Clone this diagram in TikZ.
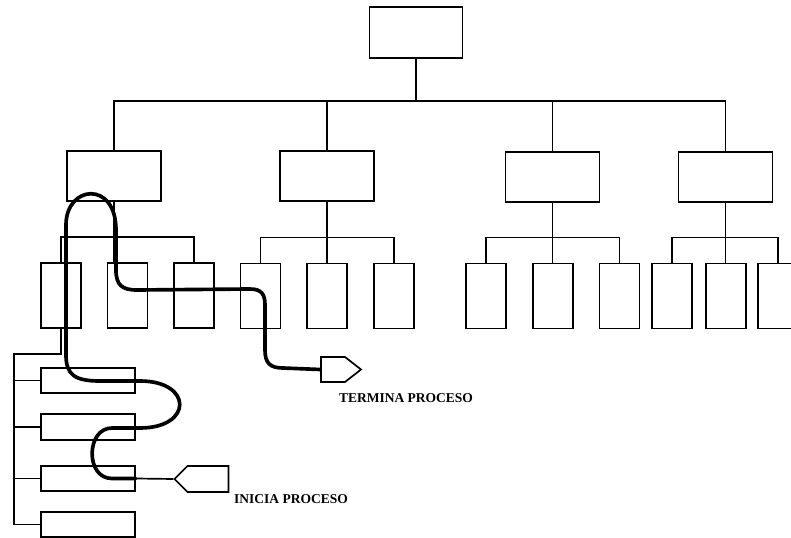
\documentclass[tikz,border=0pt]{standalone}
\usepackage{fontspec}
\setmainfont{Liberation Serif}
\usepackage{tikz}
\usetikzlibrary{positioning,calc,shapes.symbols}

\begin{document}
\begin{tikzpicture}[x=0.025cm,y=-0.025cm,line width=1.2pt,
		caja/.style={draw, inner sep=0pt, minimum width=2.35cm, minimum height=1.25cm},
		hoja/.style={draw, inner sep=0pt, minimum width=1cm, minimum height=1.625cm},
		sub/.style={draw, inner sep=0pt, minimum width=2.35cm, minimum height=0.64cm},
		marca/.style={draw, signal, inner sep=0pt},
		etiqueta/.style={font=\fontsize{9.6}{11}\selectfont\bfseries, inner sep=0pt},
		ruta/.style={line width=2.6pt, line cap=round, line join=round}]
		\useasboundingbox (0,0) rectangle (791,538);

		% raiz y primer nivel
		\node[caja, minimum width=2.325cm, minimum height=1.275cm] (raiz) at (416,32.5) {};
		\node[caja] (A) at (114,176) {};
		\node[caja] (B) at (327,176) {};
		\node[caja] (C) at (552.5,177) {};
		\node[caja] (D) at (725.5,177) {};
		\coordinate (bus) at (416,101);
		\draw (raiz.south) -- (bus);
		\draw (A.north) |- (bus);
		\draw (B.north) |- (bus);
		\draw (C.north) |- (bus);
		\draw (D.north) |- (bus);

		% hojas
		\node[hoja] (A1) at (61,295.5) {};
		\node[hoja] (A2) at (127.5,295.5) {};
		\node[hoja] (A3) at (194,295.5) {};
		\node[hoja] (B1) at (260.5,296) {};
		\node[hoja] (B2) at (327,296) {};
		\node[hoja] (B3) at (394,296) {};
		\node[hoja] (C1) at (486,296) {};
		\node[hoja] (C2) at (553,296) {};
		\node[hoja] (C3) at (619.5,296) {};
		\node[hoja] (D1) at (672,296) {};
		\node[hoja] (D2) at (726,296) {};
		\node[hoja] (D3) at (778,296) {};
		\foreach \p in {A,B,C,D}{
			\draw (\p.south) -- (\p.south |- \p2.north);
			\draw (\p1.north) -- ++(0,-25) -| (\p3.north);
		}

		% rama bajo A1
		\node[sub] (S1) at (88,380.5) {};
		\node[sub] (S2) at (88,427) {};
		\node[sub] (S3) at (88,478.5) {};
		\node[sub] (S4) at (88,524.5) {};
		\coordinate (tronco) at (14,354);
		\draw (A1.south) |- (tronco) |- (S4.west);
		\draw (S1.west) -- (S1.west -| tronco);
		\draw (S2.west) -- (S2.west -| tronco);
		\draw (S3.west) -- (S3.west -| tronco);

		% inicio y fin
		\node[marca, signal to=west, minimum width=1.35cm, minimum height=0.65cm] (ini) at (208,479) {};
		\node[marca, signal to=east, signal pointer angle=76, minimum width=1cm, minimum height=0.625cm] (fin) at (333,369.5) {};
		\node[etiqueta] (tIni) at (291,499) {INICIA PROCESO};
		\node[etiqueta] (tFin) at (406,398.5) {TERMINA PROCESO};
		\draw (S3.east) -- (ini.west);

		% recorrido
		\draw[ruta] (S3.east) -- (112,478.5)
			.. controls (85,478.5) and (86,428) .. (112,428) -- (140,428)
			.. controls (193,428) and (193,381) .. (140,381) -- (100,381)
			.. controls (75,381) and (66,375) .. (66,355) -- (66,225)
			.. controls (66,185) and (116,180) .. (116,230) -- (116,270)
			.. controls (116,285) and (122,290) .. (137,290) -- (250,289)
			.. controls (262,289) and (265,295) .. (265,305) -- (265,350)
			.. controls (265,363) and (270,368) .. (283,368) -- (fin.west);
	\end{tikzpicture}
\end{document}
